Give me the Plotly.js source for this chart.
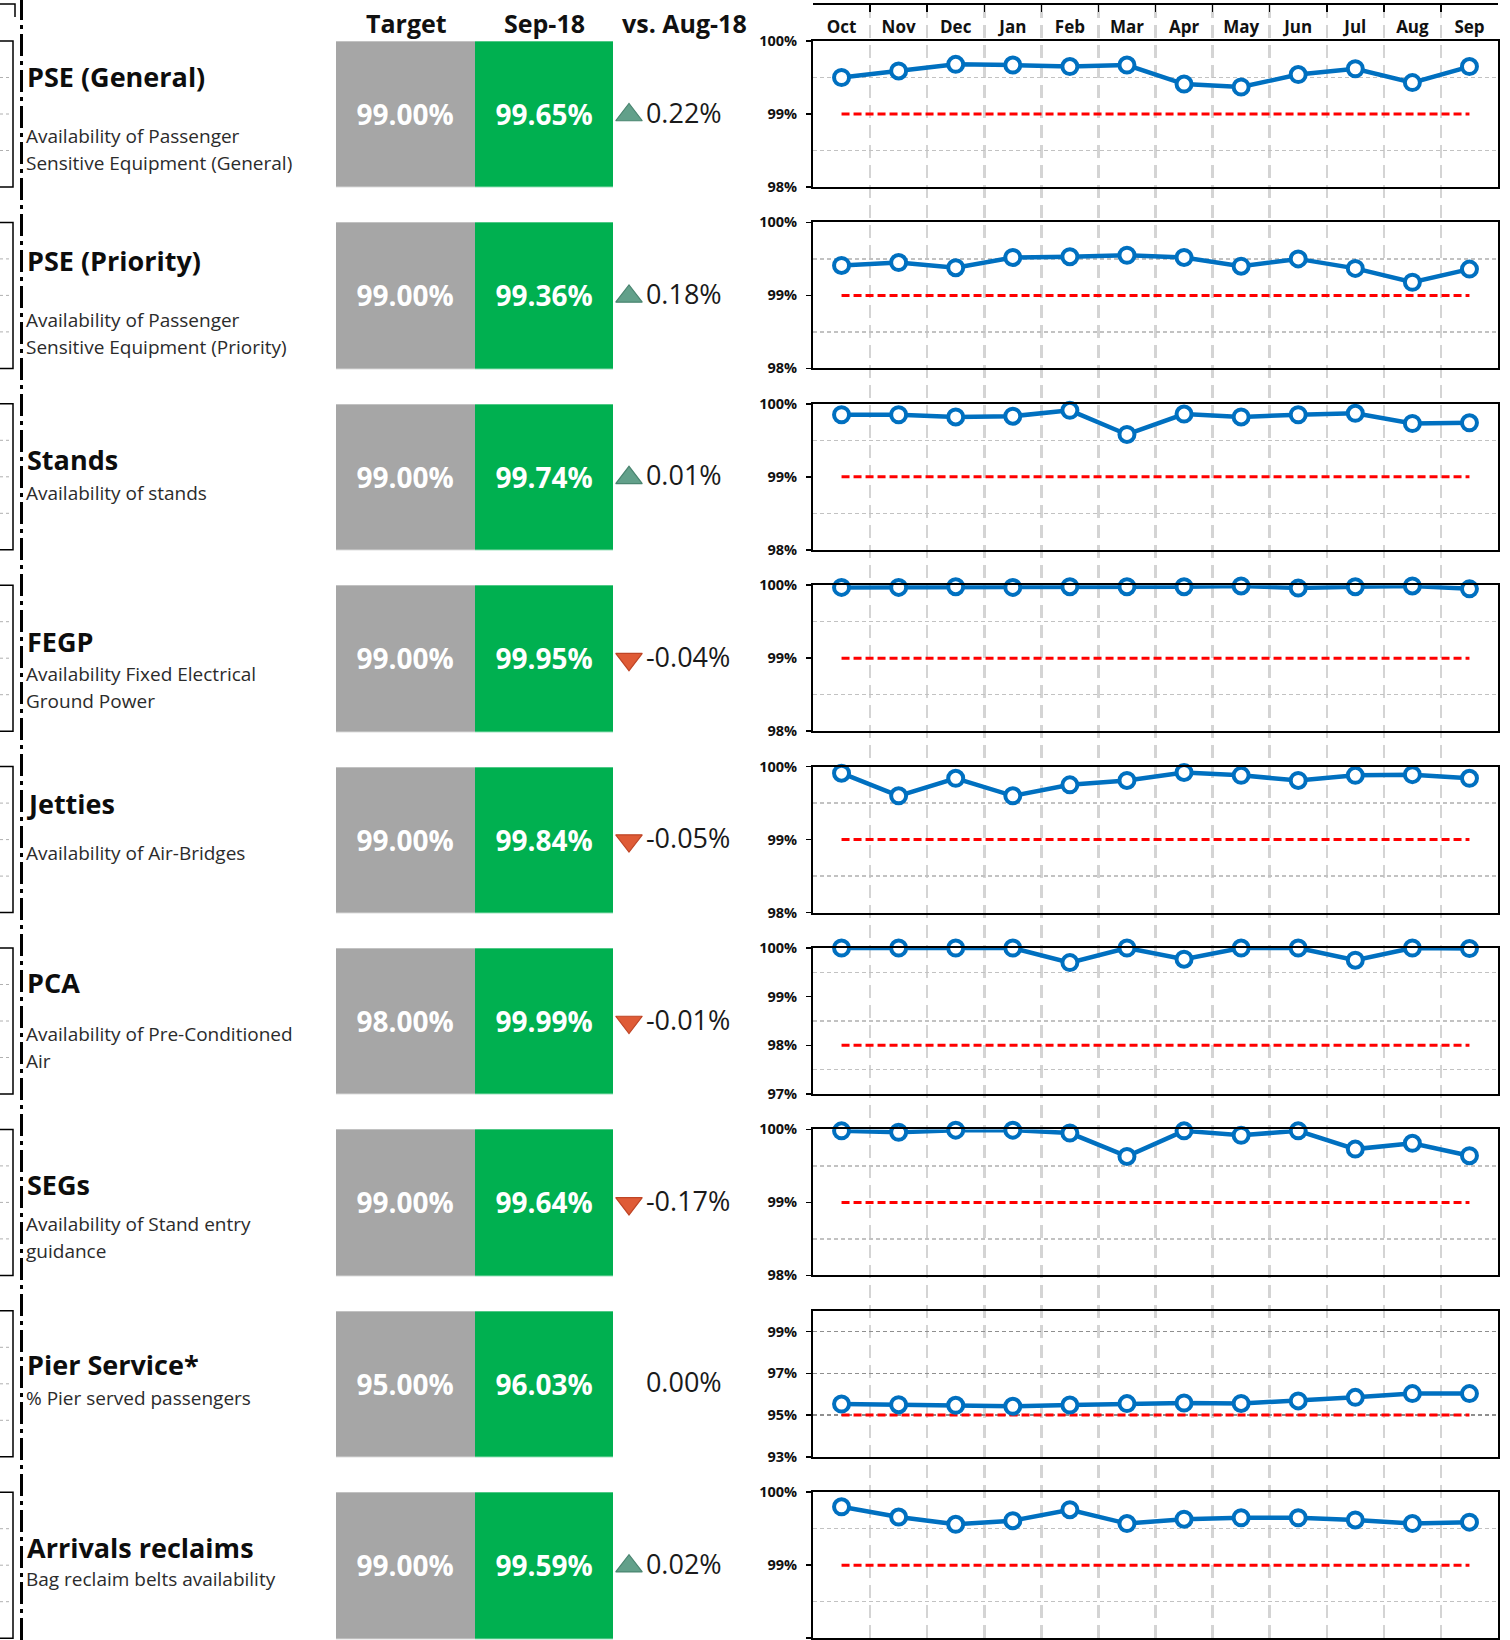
<!DOCTYPE html>
<html>
<head>
<meta charset="utf-8">
<script src="https://cdn.plot.ly/plotly-3.0.1.min.js"></script>
<style>
  html, body { margin: 0; padding: 0; background: #ffffff; }
  #dash { width: 1510px; height: 1640px; }
</style>
</head>
<body>
<div id="dash"></div>
<script>
// ---- data -----------------------------------------------------------
const months = ['Oct', 'Nov', 'Dec', 'Jan', 'Feb', 'Mar', 'Apr', 'May', 'Jun', 'Jul', 'Aug', 'Sep'];
const columnHeaders = ['Target', 'Sep-18', 'vs. Aug-18'];

const kpiNames = ['PSE (General)', 'PSE (Priority)', 'Stands', 'FEGP', 'Jetties', 'PCA', 'SEGs', 'Pier Service*', 'Arrivals reclaims'];
const kpiDescriptions = [
  ['Availability of Passenger', 'Sensitive Equipment (General)'],
  ['Availability of Passenger', 'Sensitive Equipment (Priority)'],
  ['Availability of stands'],
  ['Availability Fixed Electrical', 'Ground Power'],
  ['Availability of Air-Bridges'],
  ['Availability of Pre-Conditioned', 'Air'],
  ['Availability of Stand entry', 'guidance'],
  ['% Pier served passengers'],
  ['Bag reclaim belts availability']
];

const targets = [99, 99, 99, 99, 99, 98, 99, 95, 99];

const pseGeneral       = [99.50, 99.59, 99.68, 99.67, 99.65, 99.67, 99.41, 99.37, 99.54, 99.62, 99.43, 99.65];
const psePriority      = [99.41, 99.45, 99.38, 99.52, 99.53, 99.55, 99.52, 99.40, 99.50, 99.37, 99.18, 99.36];
const stands           = [99.85, 99.85, 99.82, 99.83, 99.91, 99.58, 99.86, 99.82, 99.85, 99.87, 99.73, 99.74];
const fegp             = [99.97, 99.97, 99.98, 99.97, 99.98, 99.98, 99.98, 99.99, 99.96, 99.98, 99.99, 99.95];
const jetties          = [99.91, 99.60, 99.84, 99.60, 99.75, 99.81, 99.92, 99.88, 99.81, 99.88, 99.89, 99.84];
const pca              = [100.00, 100.00, 100.00, 100.00, 99.70, 100.00, 99.77, 100.00, 100.00, 99.75, 100.00, 99.99];
const segs             = [99.98, 99.96, 99.99, 99.99, 99.95, 99.63, 99.98, 99.92, 99.98, 99.73, 99.81, 99.64];
const pierService      = [95.53, 95.50, 95.47, 95.42, 95.48, 95.55, 95.58, 95.56, 95.68, 95.85, 96.03, 96.03];
const arrivalsReclaims = [99.80, 99.66, 99.56, 99.61, 99.76, 99.57, 99.63, 99.65, 99.65, 99.62, 99.57, 99.59];
const series = [pseGeneral, psePriority, stands, fegp, jetties, pca, segs, pierService, arrivalsReclaims];

// y axis scales, tick labels and grid rows per KPI
const yAxisRanges = [[98, 100], [98, 100], [98, 100], [98, 100], [98, 100], [97, 100], [98, 100], [93, 100], [98, 100]];
const yTickValues = [
  [98, 99, 100], [98, 99, 100], [98, 99, 100], [98, 99, 100], [98, 99, 100],
  [97, 98, 99, 100], [98, 99, 100], [93, 95, 97, 99], [98, 99, 100]
];
const yTickLabels = yTickValues.map(vals => vals.map(v => v + '%'));
const yGridValues = [
  [98.5, 99.5], [98.5, 99.5], [98.5, 99.5], [98.5, 99.5], [98.5, 99.5],
  [97.5, 98.5, 99.5], [98.5, 99.5], [95, 97, 99], [98.5, 99.5]
];

// ---- page geometry (pixels) ----------------------------------------
const W = 1510, H = 1640;
const px = v => v / W;
const py = v => 1 - v / H;
const ROW0 = 41, PITCH = 181.4, ROWH = 146;
const rowTop = i => ROW0 + PITCH * i;
const CH_L = 813, CH_R = 1498;          // trend chart plot area
const TB_L = 336, TB_R = 752;           // figure table: 3 columns
const FONT = "'Open Sans', 'Noto Sans', sans-serif";

// label placement inside each row (offsets from the row top)
const titleDy = [35, 38, 56, 56, 37, 34, 55, 54, 55];
const descDy  = [95, 98, 89, 89, 86, 86, 95, 87, 87];
const DESC_LINE = 26.5;

const fmtPct = v => v.toFixed(2) + '%';

const traces = [];
const layout = {
  width: W, height: H,
  margin: { l: 0, r: 0, t: 0, b: 0 },
  autosize: false,
  paper_bgcolor: '#ffffff',
  plot_bgcolor: 'rgba(0,0,0,0)',
  showlegend: false,
  font: { family: FONT, color: '#111111' },
  annotations: [],
  shapes: []
};

// ---- month header + full-height month separators -------------------
traces.push({
  type: 'scatter', mode: 'markers', x: months, y: months.map(() => 0),
  xaxis: 'x', yaxis: 'y', marker: { opacity: 0 }, hoverinfo: 'skip'
});
layout.xaxis = {
  domain: [px(CH_L), px(CH_R)], anchor: 'y', side: 'top',
  type: 'category', categoryorder: 'array', categoryarray: months, range: [-0.5, 11.5],
  tickson: 'boundaries', ticks: 'inside', ticklen: 7, tickwidth: 1.5, tickcolor: '#000',
  ticklabelposition: 'inside', ticklabelstandoff: 10,
  tickfont: { family: FONT, size: 17, weight: 700, color: '#111' },
  showline: true, linecolor: '#000', linewidth: 2,
  showgrid: true, gridcolor: '#d4d4d4', gridwidth: 2.5, griddash: '13px,7px',
  zeroline: false, fixedrange: true
};
layout.yaxis = { domain: [0, py(5)], range: [0, 1], visible: false, fixedrange: true };

// ---- one trend chart per KPI ----------------------------------------
series.forEach((vals, i) => {
  const n = i + 2;
  const top = rowTop(i);
  const gridOnTicks = yGridValues[i].every(v => yTickValues[i].includes(v));

  traces.push({
    type: 'scatter', mode: 'lines', x: months, y: months.map(() => targets[i]),
    xaxis: 'x' + n, yaxis: 'y' + n, hoverinfo: 'skip',
    line: { color: '#ff0000', width: 3, dash: '8px,4px' }
  });
  traces.push({
    type: 'scatter', mode: 'lines+markers', x: months, y: vals,
    xaxis: 'x' + n, yaxis: 'y' + n, cliponaxis: false,
    line: { color: '#0070c0', width: 4.5 },
    marker: { symbol: 'circle', size: 15, color: '#ffffff', line: { color: '#0070c0', width: 4 } }
  });

  layout['xaxis' + n] = {
    domain: [px(CH_L), px(CH_R)], anchor: 'y' + n,
    type: 'category', categoryorder: 'array', categoryarray: months, range: [-0.5, 11.5],
    showticklabels: false, ticks: '', showgrid: false, zeroline: false,
    showline: true, mirror: true, linecolor: '#000', linewidth: 2, fixedrange: true
  };
  const ya = {
    domain: [py(top + ROWH), py(top)], anchor: 'x' + n,
    range: yAxisRanges[i], tickmode: 'array', tickvals: yTickValues[i], ticktext: yTickLabels[i],
    ticks: 'outside', ticklen: 5, tickwidth: 1.5, tickcolor: '#000', ticklabelstandoff: 6,
    tickfont: { family: FONT, size: 14.5, weight: 700, color: '#111' },
    showline: true, mirror: true, linecolor: '#000', linewidth: 2,
    zeroline: false, fixedrange: true, layer: 'below traces'
  };
  if (gridOnTicks) {
    Object.assign(ya, { showgrid: true, gridcolor: '#8f8f8f', gridwidth: 1.3, griddash: '4px,3px' });
  } else {
    Object.assign(ya, {
      showgrid: false,
      minor: { tickmode: 'array', tickvals: yGridValues[i], ticks: '', showgrid: true,
               gridcolor: '#c2c2c2', gridwidth: 1.3, griddash: '4px,3px' }
    });
  }
  layout['yaxis' + n] = ya;
});

// ---- target / actual table --------------------------------------------
const latest = series.map(s => s[s.length - 1]);
const previous = series.map(s => s[s.length - 2]);
const deltas = latest.map((v, i) => Math.round((v - previous[i]) * 100) / 100);
const rowIdx = kpiNames.map((_, i) => i);

traces.push({
  type: 'heatmap', xaxis: 'x11', yaxis: 'y11',
  x: [0, 1], y: rowIdx,
  z: rowIdx.map(() => [0, 1]),
  text: rowIdx.map(i => [fmtPct(targets[i]), fmtPct(latest[i])]),
  texttemplate: '%{text}',
  textfont: { family: FONT, size: 28, weight: 700, color: '#ffffff' },
  colorscale: [[0, '#a6a6a6'], [1, '#00b050']], zmin: 0, zmax: 1,
  showscale: false, xgap: 0, ygap: PITCH - ROWH, hoverinfo: 'skip'
});

const moved = rowIdx.filter(i => deltas[i] !== 0);
traces.push({
  type: 'scatter', mode: 'markers', xaxis: 'x11', yaxis: 'y11', hoverinfo: 'skip',
  x: moved.map(() => 1.613), y: moved,
  marker: {
    size: 23,
    symbol: moved.map(i => deltas[i] > 0 ? 'triangle-up' : 'triangle-down'),
    color: moved.map(i => deltas[i] > 0 ? '#62a08a' : '#df5b36'),
    line: { width: 1.2, color: moved.map(i => deltas[i] > 0 ? '#4a8570' : '#bf4526') }
  }
});
traces.push({
  type: 'scatter', mode: 'text', xaxis: 'x11', yaxis: 'y11', hoverinfo: 'skip',
  x: rowIdx.map(() => 1.735), y: rowIdx.map(i => i + 0.005),
  text: deltas.map(d => fmtPct(d)),
  textposition: 'middle right',
  textfont: { family: FONT, size: 27, color: '#1a1a1a' }
});

const rowMid0 = ROW0 + ROWH / 2 + 1;
layout.xaxis11 = { domain: [px(TB_L), px(TB_R)], anchor: 'y11', range: [-0.5, 2.5], visible: false, fixedrange: true };
layout.yaxis11 = {
  domain: [0, 1], anchor: 'x11',
  range: [(H - rowMid0) / PITCH, -rowMid0 / PITCH],
  visible: false, fixedrange: true
};

// column headers
const headerX = [406, 544, 684];
columnHeaders.forEach((h, k) => {
  layout.annotations.push({
    xref: 'paper', yref: 'paper', x: px(headerX[k]), y: py(23),
    xanchor: 'center', yanchor: 'middle', showarrow: false, text: h,
    font: { family: FONT, size: 25, weight: 700, color: '#111' }
  });
});

// ---- KPI names and descriptions -----------------------------------------
kpiNames.forEach((name, i) => {
  const top = rowTop(i);
  layout.annotations.push({
    xref: 'paper', yref: 'paper', x: px(25), y: py(top + titleDy[i]),
    xanchor: 'left', yanchor: 'middle', showarrow: false, text: name,
    font: { family: FONT, size: 27, weight: 700, color: '#0d0d0d' }
  });
  kpiDescriptions[i].forEach((line, k) => {
    layout.annotations.push({
      xref: 'paper', yref: 'paper', x: px(24), y: py(top + descDy[i] + k * DESC_LINE),
      xanchor: 'left', yanchor: 'middle', showarrow: false, text: line,
      font: { family: FONT, size: 19, color: '#2b2b2b' }
    });
  });

  // frame of the neighbouring panel at the left page edge
  layout.shapes.push({
    type: 'rect', xref: 'paper', yref: 'paper',
    x0: px(-4), x1: px(13), y0: py(top + ROWH), y1: py(top),
    line: { color: '#000', width: 1.5 }, fillcolor: 'rgba(0,0,0,0)'
  });
  [0.25, 0.5, 0.75].forEach(f => {
    layout.shapes.push({
      type: 'line', xref: 'paper', yref: 'paper',
      x0: px(0), x1: px(12), y0: py(top + ROWH * f), y1: py(top + ROWH * f),
      line: { color: '#b0b0b0', width: 1, dash: '3px,3px' }
    });
  });
});

// top corner of the neighbouring panel and the column separator
layout.shapes.push({
  type: 'path', xref: 'paper', yref: 'paper',
  path: `M ${px(0)} ${py(4)} L ${px(15)} ${py(4)} L ${px(15)} ${py(17)}`,
  line: { color: '#000', width: 1.5 }
});
layout.shapes.push({
  type: 'line', xref: 'paper', yref: 'paper',
  x0: px(21.5), x1: px(21.5), y0: 0, y1: 1,
  line: { color: '#000', width: 3, dash: '22px,5px,4px,5px' }
});

Plotly.newPlot('dash', traces, layout, { displayModeBar: false, staticPlot: true });
</script>
</body>
</html>
